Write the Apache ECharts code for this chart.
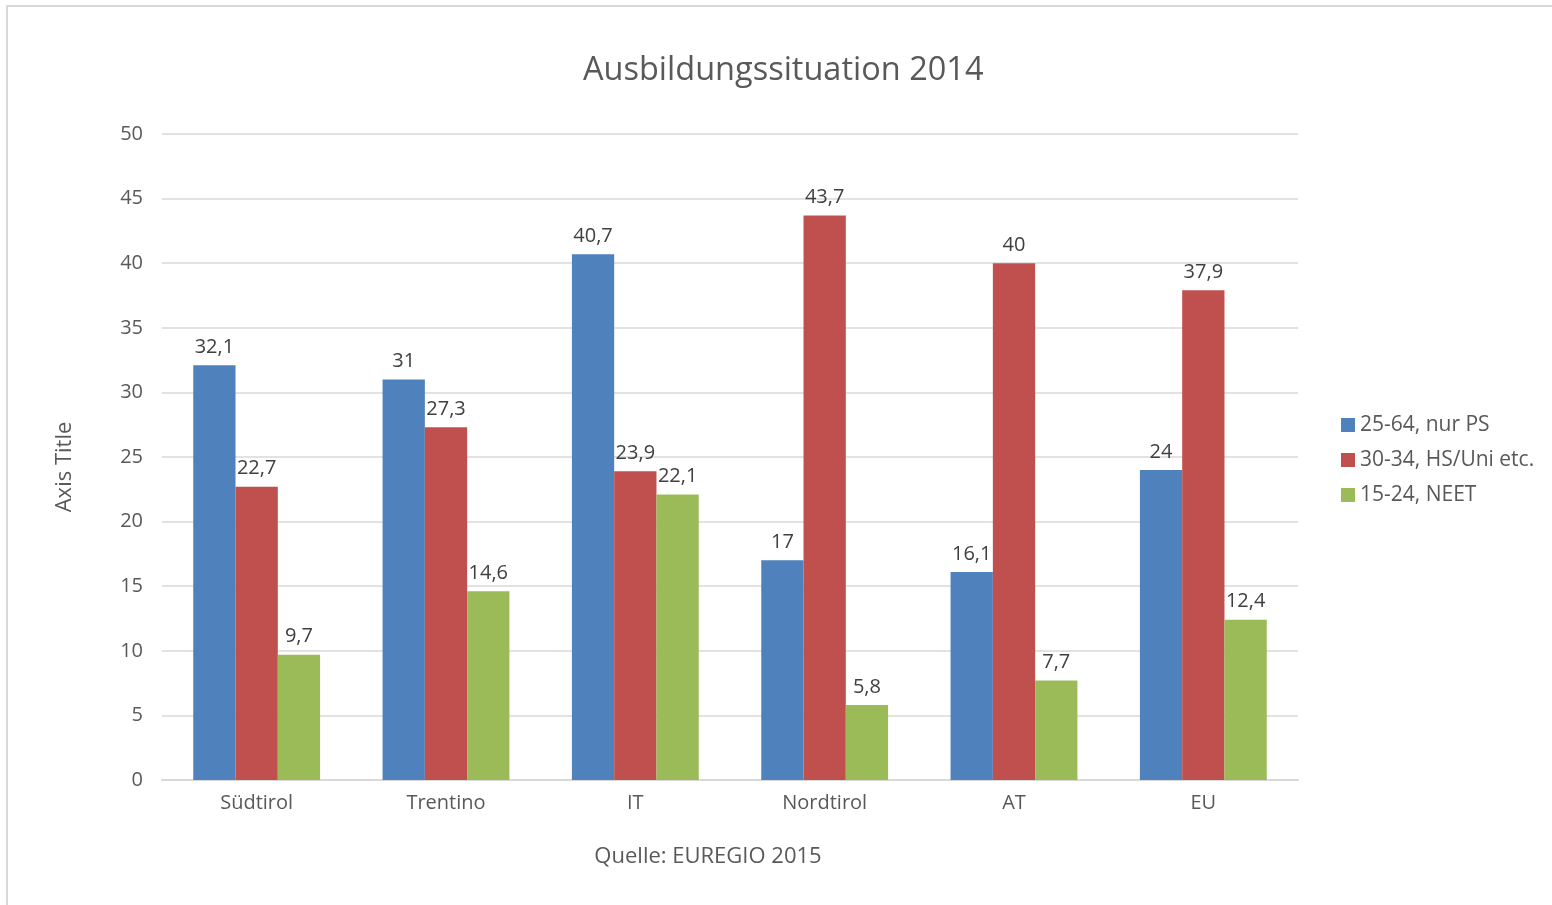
<!DOCTYPE html>
<html>
<head>
<meta charset="utf-8">
<script src="https://cdn.jsdelivr.net/npm/echarts@6/dist/echarts.min.js"></script>
<style>
html,body{margin:0;padding:0;background:#fff;}
#chart{width:1552px;height:905px;}
</style>
</head>
<body>
<div id="chart"></div>
<script>
const categories = ['Südtirol', 'Trentino', 'IT', 'Nordtirol', 'AT', 'EU'];
const seriesNames = ['25-64, nur PS', '30-34, HS/Uni etc.', '15-24, NEET'];
const valuesPS = [32.1, 31, 40.7, 17, 16.1, 24];
const valuesHS = [22.7, 27.3, 23.9, 43.7, 40, 37.9];
const valuesNEET = [9.7, 14.6, 22.1, 5.8, 7.7, 12.4];
const colors = ['#4f81bd', '#c0504d', '#9bbb59'];
const FONT = 'Open Sans';
const TXT = '#595959';

const chart = echarts.init(document.getElementById('chart'));
const mk = (name, data, color) => ({
  name, type: 'bar', data,
  itemStyle: { color },
  barGap: '0%', barCategoryGap: '33%',
  label: {
    show: true, position: 'top', distance: 8,
    color: '#404040', fontFamily: FONT, fontSize: 20,
    formatter: p => String(p.value).replace('.', ',')
  }
});
chart.setOption({
  animation: false,
  backgroundColor: '#fff',
  textStyle: { fontFamily: FONT },
  title: {
    text: 'Ausbildungssituation 2014', left: 578, top: 49,
    textStyle: { color: TXT, fontFamily: FONT, fontSize: 32.5, fontWeight: 'normal' }
  },
  legend: {
    orient: 'vertical', left: 1336, top: 409,
    itemWidth: 14, itemHeight: 14, itemGap: 13, icon: 'rect',
    textStyle: { color: TXT, fontFamily: FONT, fontSize: 21, lineHeight: 22 },
    data: seriesNames
  },
  grid: { left: 162, right: 254, top: 134, bottom: 125, containLabel: false },
  xAxis: {
    type: 'category', data: categories,
    axisLine: { lineStyle: { color: '#d9d9d9', width: 2 } },
    axisTick: { show: false },
    axisLabel: { color: TXT, fontFamily: FONT, fontSize: 20, margin: 13 }
  },
  yAxis: {
    type: 'value', min: 0, max: 50, interval: 5,
    axisLine: { show: false }, axisTick: { show: false },
    axisLabel: { color: TXT, fontFamily: FONT, fontSize: 20, margin: 19 },
    splitLine: { lineStyle: { color: '#d9d9d9', width: 1.5 } }
  },
  graphic: [
    { type: 'rect', z: -1, silent: true,
      shape: { x: 7, y: 6, width: 1600, height: 1000 },
      style: { fill: 'none', stroke: '#d9d9d9', lineWidth: 2 } },
    { type: 'text', x: 65, y: 467, rotation: Math.PI / 2, silent: true,
      style: { text: 'Axis Title', fill: TXT, font: '22px "Open Sans"', align: 'center', verticalAlign: 'middle' } },
    { type: 'text', x: 708, y: 857, silent: true,
      style: { text: 'Quelle: EUREGIO 2015', fill: TXT, font: '22px "Open Sans"', align: 'center', verticalAlign: 'middle' } }
  ],
  series: [
    mk(seriesNames[0], valuesPS, colors[0]),
    mk(seriesNames[1], valuesHS, colors[1]),
    mk(seriesNames[2], valuesNEET, colors[2])
  ]
});
</script>
</body>
</html>
